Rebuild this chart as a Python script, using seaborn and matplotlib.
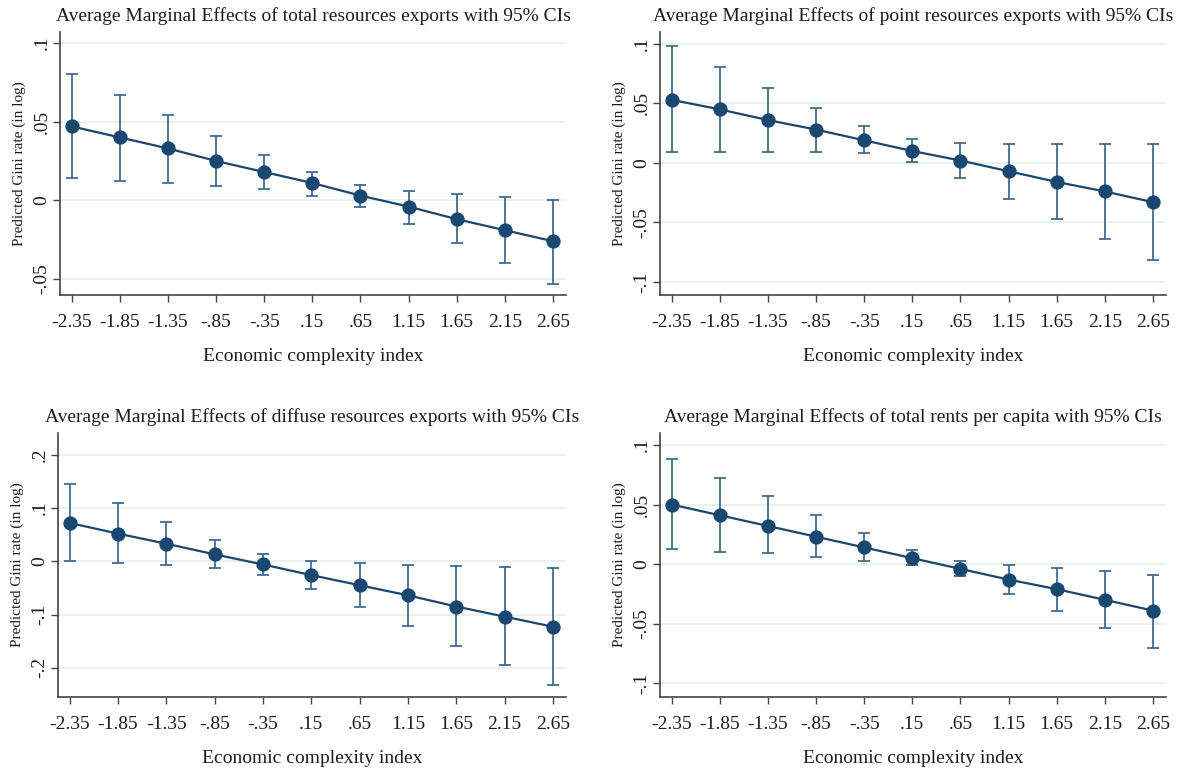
import matplotlib
matplotlib.use("Agg")
import matplotlib.pyplot as plt
import numpy as np
import pandas as pd
import seaborn as sns

eci = [-2.35, -1.85, -1.35, -0.85, -0.35, 0.15, 0.65, 1.15, 1.65, 2.15, 2.65]
eci_labels = ["-2.35", "-1.85", "-1.35", "-.85", "-.35", ".15", ".65",
              "1.15", "1.65", "2.15", "2.65"]

total_me = [0.047, 0.040, 0.033, 0.025, 0.018, 0.011, 0.003, -0.004, -0.012, -0.019, -0.026]
total_lo = [0.014, 0.012, 0.011, 0.009, 0.007, 0.003, -0.004, -0.015, -0.027, -0.040, -0.053]
total_hi = [0.080, 0.067, 0.054, 0.041, 0.029, 0.018, 0.010, 0.006, 0.004, 0.002, 0.000]

point_me = [0.053, 0.045, 0.036, 0.028, 0.019, 0.010, 0.002, -0.007, -0.016, -0.024, -0.033]
point_lo = [0.009, 0.009, 0.009, 0.009, 0.008, 0.001, -0.013, -0.030, -0.047, -0.064, -0.082]
point_hi = [0.098, 0.081, 0.063, 0.046, 0.031, 0.020, 0.017, 0.016, 0.016, 0.016, 0.016]

diffuse_me = [0.072, 0.052, 0.033, 0.013, -0.006, -0.026, -0.045, -0.064, -0.085, -0.104, -0.123]
diffuse_lo = [0.000, -0.004, -0.007, -0.012, -0.025, -0.052, -0.085, -0.121, -0.159, -0.195, -0.232]
diffuse_hi = [0.146, 0.109, 0.074, 0.040, 0.013, 0.001, -0.004, -0.007, -0.009, -0.011, -0.013]

rents_me = [0.050, 0.041, 0.032, 0.023, 0.014, 0.005, -0.004, -0.013, -0.021, -0.030, -0.039]
rents_lo = [0.013, 0.010, 0.009, 0.006, 0.003, -0.001, -0.010, -0.025, -0.039, -0.054, -0.070]
rents_hi = [0.088, 0.072, 0.057, 0.041, 0.026, 0.012, 0.003, -0.001, -0.003, -0.006, -0.009]

titles = [
    "Average Marginal Effects of total resources exports with 95% CIs",
    "Average Marginal Effects of point resources exports with 95% CIs",
    "Average Marginal Effects of diffuse resources exports with 95% CIs",
    "Average Marginal Effects of total rents per capita with 95% CIs",
]
yticks_small = [-0.1, -0.05, 0, 0.05, 0.1]
ylabels_small = ["-.1", "-.05", "0", ".05", ".1"]
yticks_big = [-0.2, -0.1, 0, 0.1, 0.2]
ylabels_big = ["-.2", "-.1", "0", ".1", ".2"]

sns.set_theme(style="white")
plt.rcParams["font.family"] = ["Liberation Serif", "DejaVu Serif"]

navy = "#1a476f"
ci_col = "#3f6c92"
txt = "#1c1c1c"

fig = plt.figure(figsize=(11.84, 7.75), dpi=100)
W, H = 1184, 775

# axes boxes in pixels: left, top, right, bottom
boxes = [(60, 32, 566, 295), (660, 32, 1166, 295),
         (58, 433, 566, 697), (660, 433, 1166, 697)]
series = [(total_me, total_lo, total_hi), (point_me, point_lo, point_hi),
          (diffuse_me, diffuse_lo, diffuse_hi), (rents_me, rents_lo, rents_hi)]
ylims = [(-0.0602, 0.107), (-0.111, 0.110), (-0.255, 0.241), (-0.1115, 0.110)]
yt = [(yticks_small[1:], ylabels_small[1:]), (yticks_small, ylabels_small),
      (yticks_big, ylabels_big), (yticks_small, ylabels_small)]

for i in range(4):
    l, t, r, b = boxes[i]
    ax = fig.add_axes([l / W, 1 - b / H, (r - l) / W, (b - t) / H])
    me, lo, hi = series[i]
    df = pd.DataFrame({"eci": eci, "me": me, "lo": lo, "hi": hi})

    ticks, labs = yt[i]
    for v in ticks:
        ax.axhline(v, color="#e8eef1", lw=1.2, zorder=0)

    ax.errorbar(df["eci"], df["me"],
                yerr=[df["me"] - df["lo"], df["hi"] - df["me"]],
                fmt="none", ecolor=ci_col, elinewidth=1.3, capsize=4,
                capthick=1.3, zorder=2)
    sns.lineplot(data=df, x="eci", y="me", ax=ax, color=navy, lw=1.6,
                 marker="o", markersize=9.5, markeredgecolor=navy,
                 markerfacecolor=navy, zorder=3)

    ax.set_xlim(-2.47, 2.785)
    ax.set_ylim(*ylims[i])
    ax.set_xticks(eci)
    ax.set_xticklabels(eci_labels, fontsize=14, color=txt)
    ax.set_yticks(ticks)
    ax.set_yticklabels(labs, fontsize=14, color=txt, rotation=90, va="center")
    ax.tick_params(axis="x", direction="out", length=5, width=1,
                   color="#444444", bottom=True, pad=9)
    ax.tick_params(axis="y", direction="out", length=5, width=1,
                   color="#444444", left=True, pad=2)
    for s in ["top", "right"]:
        ax.spines[s].set_visible(False)
    for s in ["left", "bottom"]:
        ax.spines[s].set_color("#444444")
        ax.spines[s].set_linewidth(1.2)

    ax.set_xlabel("Economic complexity index", fontsize=14, color=txt, labelpad=12)
    ax.set_ylabel("Predicted Gini rate (in log)", fontsize=11, color=txt, labelpad=5)
    ax.set_title(titles[i], fontsize=14, color=txt, pad=8)

fig.savefig("out.png", dpi=100)
